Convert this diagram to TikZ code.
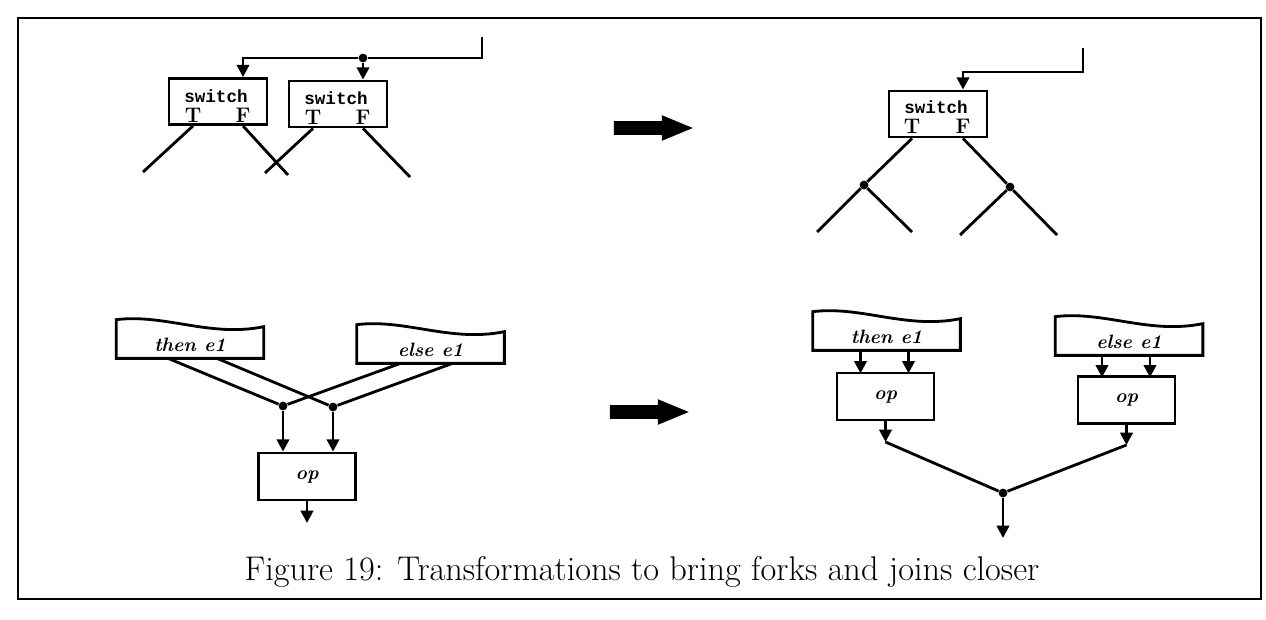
\documentclass[tikz,border=0pt]{standalone}
\usepackage{fontspec}
\usepackage{tikz}
\usetikzlibrary{arrows.meta, positioning, shapes.arrows, calc}

\newfontfamily\switchfont{Liberation Mono}

% wavy-topped box drawn round a tape node
\newcommand{\tapeedge}[1]{%
  \draw[wire] ($(#1.north west)+(0,-12)$)
    .. controls ($(#1.north)+(-25,-18)$) and ($(#1.north)+(20,6)$)
    .. ($(#1.north east)+(0,-5)$) -- (#1.south east) -- (#1.south west) -- cycle;}

\begin{document}
\begin{tikzpicture}[
  x=0.02cm, y=-0.02cm,
  wire/.style={line width=1.6pt},
  arr/.style={wire, -{Triangle[length=7pt, width=7pt]}},
  swbox/.style={rectangle, draw, line width=1.6pt, minimum width=1.96cm, minimum height=0.92cm, inner sep=0pt},
  opbox/.style={rectangle, draw, line width=1.6pt, minimum width=1.94cm, minimum height=0.94cm, inner sep=0pt, font=\fontsize{11}{13}\selectfont\bfseries\itshape},
  tape/.style={rectangle, minimum width=2.94cm, minimum height=0.52cm, inner sep=0pt, font=\fontsize{11}{13}\selectfont\bfseries\itshape},
  swtxt/.style={inner sep=0pt, font=\fontsize{10}{12}\selectfont\switchfont\bfseries},
  tf/.style={inner sep=0pt, font=\fontsize{12}{14}\selectfont\bfseries},
  jdot/.style={circle, fill, inner sep=0pt, minimum size=5pt},
  bigarr/.style={single arrow, fill, inner sep=0.13cm, minimum height=1.58cm, single arrow head extend=0.12cm, single arrow tip angle=45},
]
\useasboundingbox (0,0) rectangle (1266,619);
\draw[line width=1.3pt] (18,18) rectangle (1261,599);

% --- two switches on one input
\node[swbox] (sw1) at (218,101.5) {};
\node[swbox] (sw2) at (338,104) {};
\node[swtxt] (sw1lbl) at ($(sw1.north)+(-2,19)$) {switch};
\node[swtxt] (sw2lbl) at ($(sw2.north)+(-2,19)$) {switch};
\node[tf] (sw1T) at ($(sw1.north)+(-25,38)$) {T};
\node[tf] (sw1F) at ($(sw1.north)+(25,38)$)  {F};
\node[tf] (sw2T) at ($(sw2.north)+(-25,38)$) {T};
\node[tf] (sw2F) at ($(sw2.north)+(25,38)$)  {F};

\coordinate (in1) at (482,37);
\node[jdot] (f1) at (363,58) {};
\draw[wire] (in1) |- (f1);
\draw[arr] (f1) -| (sw1F |- sw1.north);
\draw[arr] (f1) -- (f1 |- sw2.north);

\coordinate (e1) at (143,172);
\coordinate (e2) at (288,175);
\coordinate (e3) at (265,173);
\coordinate (e4) at (410,177);
\draw[wire] (sw1T |- sw1.south) -- (e1);
\draw[wire] (sw1F |- sw1.south) -- (e2);
\draw[wire] (sw2T |- sw2.south) -- (e3);
\draw[wire] (sw2F |- sw2.south) -- (e4);

\node[bigarr] (xf1) at (645,128) {};

% --- one switch, forks moved below it
\node[swbox] (sw3) at (938,114) {};
\node[swtxt] (sw3lbl) at ($(sw3.north)+(-2,18)$) {switch};
\node[tf] (sw3T) at ($(sw3.north)+(-26,37)$) {T};
\node[tf] (sw3F) at ($(sw3.north)+(25,37)$)  {F};

\coordinate (in2) at (1083,48);
\draw[arr] (in2) -- ++(0,24) -| (sw3F |- sw3.north);

\node[jdot] (dl) at (864,185) {};
\node[jdot] (dr) at (1010,187) {};
\coordinate (g1) at (817,232);
\coordinate (g2) at (912,232);
\coordinate (g3) at (960,235);
\coordinate (g4) at (1057,235);
\draw[wire] (sw3T |- sw3.south) -- (dl);
\draw[wire] (dl) -- (g1);
\draw[wire] (dl) -- (g2);
\draw[wire] (sw3F |- sw3.south) -- (dr);
\draw[wire] (dr) -- (g3);
\draw[wire] (dr) -- (g4);

% --- joins before op
\node[tape] (then1) at (190,345) {then e1};
\node[tape] (else1) at (430.5,350) {else e1};
\tapeedge{then1}
\tapeedge{else1}
\node[jdot] (jl) at (283,406) {};
\node[jdot] (jr) at (333,407) {};
\draw[wire] ($(then1.south)+(-22,0)$) -- (jl);
\draw[wire] ($(then1.south)+(27,0)$) -- (jr);
\draw[wire] ($(else1.south)+(-30,0)$) -- (jl);
\draw[wire] ($(else1.south)+(22,0)$) -- (jr);

\node[opbox] (op1) at (307,476.5) {op};
\draw[arr] (jl) -- (jl |- op1.north);
\draw[arr] (jr) -- (jr |- op1.north);
\coordinate (out1) at (307,523);
\draw[arr] (op1.south) -- (out1);

\node[bigarr] (xf2) at (641,412) {};

% --- op copied into each branch, join after
\node[tape] (then2) at (886.5,337) {then e1};
\node[tape] (else2) at (1129,342) {else e1};
\tapeedge{then2}
\tapeedge{else2}
\node[opbox] (op2) at (885.5,396.5) {op};
\node[opbox] (op3) at (1126.5,400) {op};
\draw[arr] ($(then2.south)+(-26,0)$) -- ++(0,23);
\draw[arr] ($(then2.south)+(22,0)$)  -- ++(0,23);
\draw[arr] ($(else2.south)+(-27,0)$) -- ++(0,22);
\draw[arr] ($(else2.south)+(21,0)$)  -- ++(0,22);

\coordinate (o2) at (885.5,442);
\coordinate (o3) at (1126.5,445);
\node[jdot] (jb) at (1003,493) {};
\coordinate (out2) at (1003,538);
\draw[arr] (op2.south) -- (o2);
\draw[arr] (op3.south) -- (o3);
\draw[wire] (o2) -- (jb);
\draw[wire] (o3) -- (jb);
\draw[arr] (jb) -- (out2);

\node[font=\fontsize{19.5}{23}\selectfont] (cap) at (642,572) {Figure 19: Transformations to bring forks and joins closer};
\end{tikzpicture}
\end{document}
